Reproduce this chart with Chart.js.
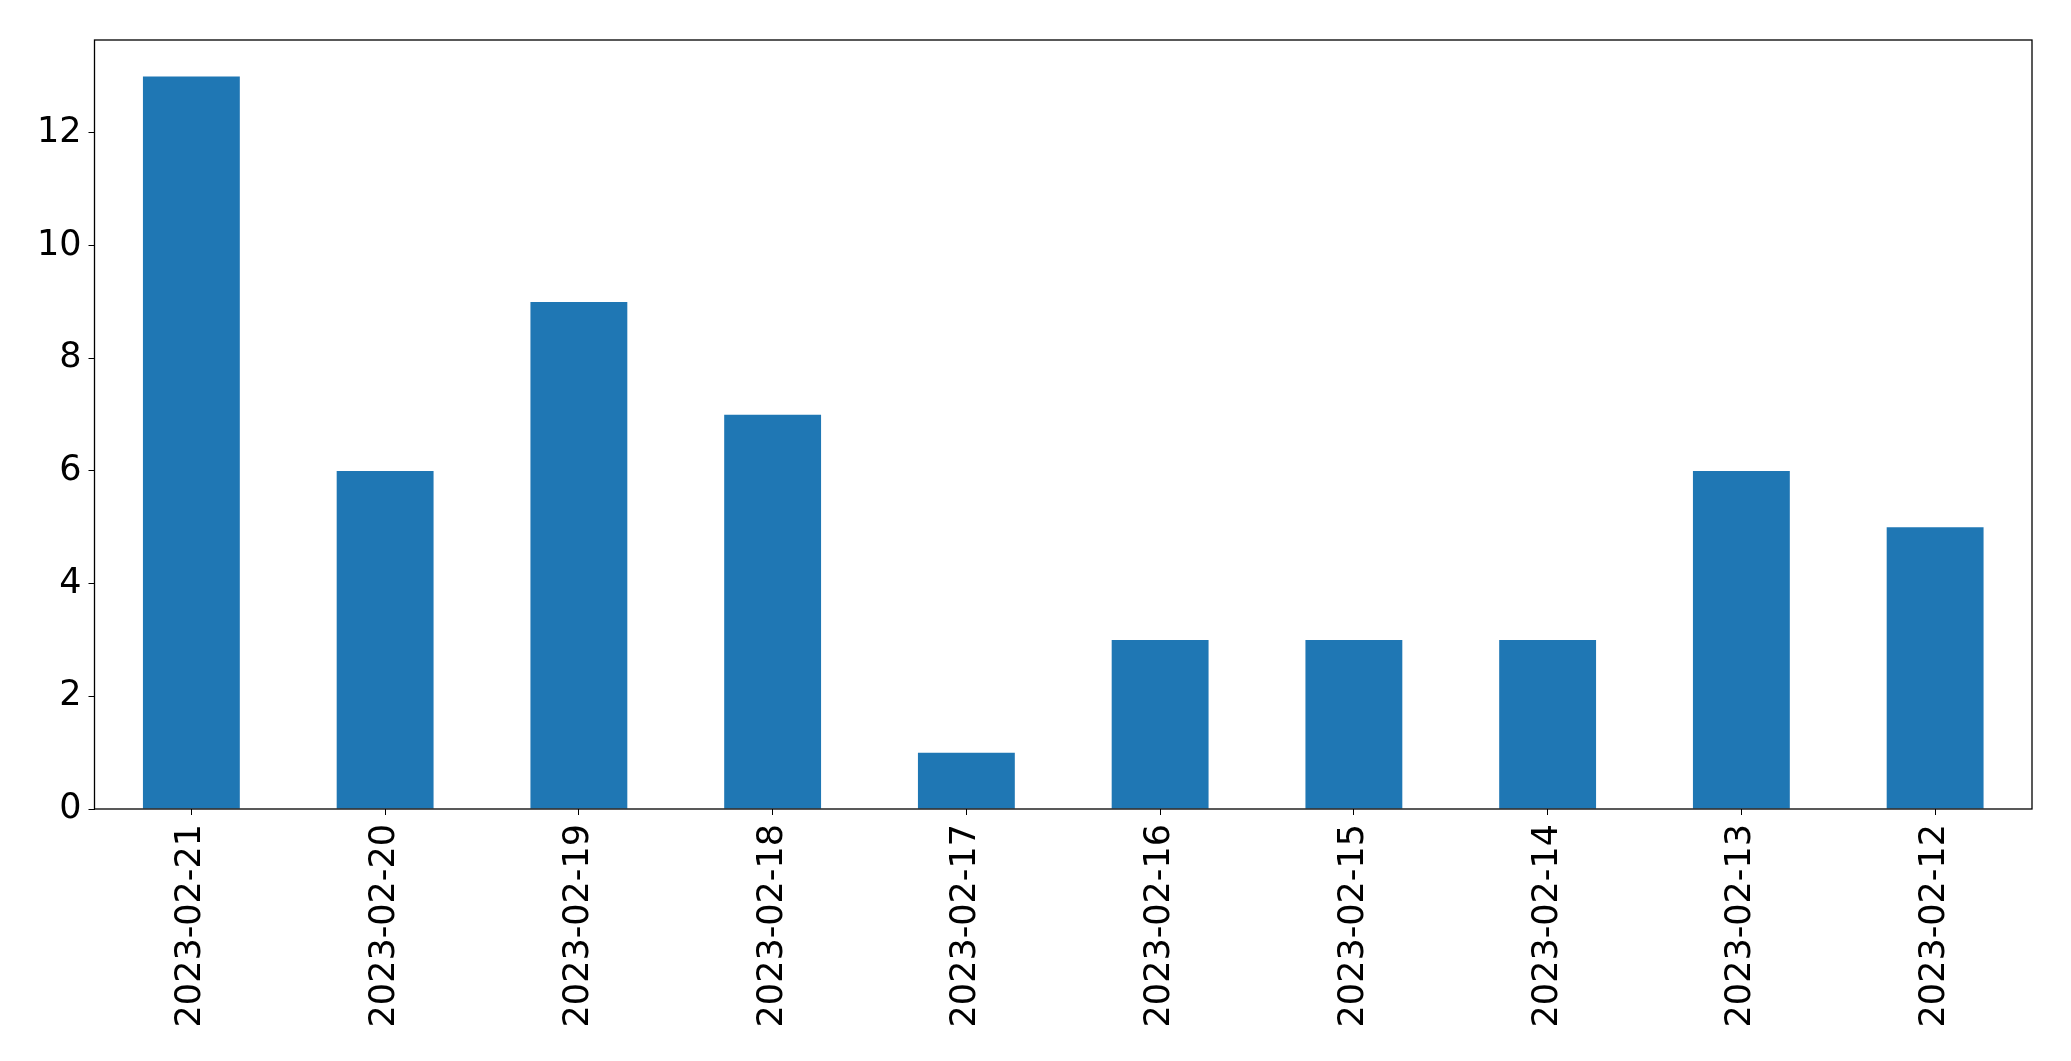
<!DOCTYPE html>
<html>
<head>
<meta charset="utf-8">
<script src="https://cdn.jsdelivr.net/npm/chart.js@4/dist/chart.umd.min.js"></script>
<style>
html,body{margin:0;padding:0;background:#fff;}
#wrap{width:2071px;height:1061px;}
</style>
</head>
<body>
<div id="wrap"><canvas id="c" width="2071" height="1061"></canvas></div>
<script>
const categories = ["2023-02-21","2023-02-20","2023-02-19","2023-02-18","2023-02-17","2023-02-16","2023-02-15","2023-02-14","2023-02-13","2023-02-12"];
const counts = [13, 6, 9, 7, 1, 3, 3, 3, 6, 5];
const yTicks = [0, 2, 4, 6, 8, 10, 12];

const frame = {
  id: 'frame',
  afterDraw(chart) {
    const a = chart.chartArea, ctx = chart.ctx;
    ctx.save();
    ctx.strokeStyle = '#000';
    ctx.lineWidth = 1.3;
    ctx.strokeRect(a.left, a.top, a.right - a.left, a.bottom - a.top);
    ctx.restore();
  }
};

new Chart(document.getElementById('c'), {
  type: 'bar',
  data: {
    labels: categories,
    datasets: [{ data: counts, backgroundColor: '#1f77b4', barPercentage: 0.5, categoryPercentage: 1.0 }]
  },
  options: {
    responsive: false,
    animation: false,
    devicePixelRatio: 1,
    layout: { padding: { top: 40, right: 39, left: 0, bottom: 0 } },
    plugins: { legend: { display: false }, tooltip: { enabled: false } },
    scales: {
      x: {
        offset: true,
        grid: { display: true, drawOnChartArea: false, drawTicks: true, tickLength: 6, color: '#000', offset: false },
        border: { display: false },
        ticks: { color: '#000', font: { family: 'DejaVu Sans', size: 35 }, minRotation: 90, maxRotation: 90, padding: 9, autoSkip: false },
        afterFit(s) { s.height = 252; }
      },
      y: {
        min: 0, max: 13.65,
        afterBuildTicks(s) { s.ticks = yTicks.map(v => ({ value: v })); },
        grid: { display: true, drawOnChartArea: false, drawTicks: true, tickLength: 6, color: '#000' },
        border: { display: false },
        ticks: { color: '#000', font: { family: 'DejaVu Sans', size: 35 }, padding: 7 },
        afterFit(s) { s.width = 94.5; }
      }
    }
  },
  plugins: [frame]
});
</script>
</body>
</html>
